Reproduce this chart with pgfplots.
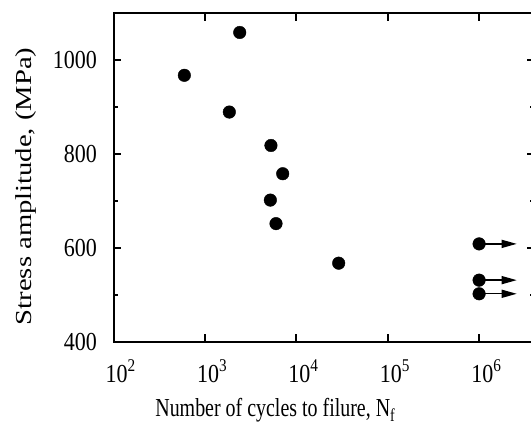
\documentclass[border=0pt]{standalone}
\usepackage{fontspec}
\setmainfont{Liberation Serif}
% the reference is stretched vertically, so horizontal text is narrow and vertical text is long
\newfontfamily\tickfont[FakeStretch=0.85]{Liberation Serif}
\newfontfamily\hfont[FakeStretch=0.77]{Liberation Serif}
\newfontfamily\vfont[FakeStretch=1.25]{Liberation Serif}
\newcommand\expo[1]{\raisebox{0.42em}{\fontsize{18}{18}\selectfont #1}}
\usepackage{pgfplots}
\pgfplotsset{compat=1.18}
\usetikzlibrary{arrows.meta}

% failed specimens
\pgfplotstableread{
N      S
596    967
2405   1058
1850   889
5280   818
7100   758
5200   702
6000   652
29100  568
}\failed

% run-outs at 1e6 cycles
\pgfplotstableread{
N      S
1e6    609
1e6    532
1e6    503
}\runout

\begin{document}
\begin{tikzpicture}
\begin{semilogxaxis}[
    scale only axis,
    width=421.5bp,
    height=329.6bp,
    xmin=100, xmax=4.09e6,
    ymin=400, ymax=1100,
    xtick={1e2,1e3,1e4,1e5,1e6},
    xticklabels={10\expo{2},10\expo{3},10\expo{4},10\expo{5},10\expo{6}},
    xminorticks=false,
    ytick={400,600,800,1000},
    yticklabels={400,600,800,1000},
    minor y tick num=1,
    axis line style={line width=2bp},
    every tick/.style={black, line width=2bp},
    major tick length=8bp,
    minor tick length=5bp,
    tick label style={font=\tickfont\fontsize{26}{26}\selectfont},
    xticklabel style={anchor=base, yshift=-40bp, xshift=7bp},
    yticklabel style={xshift=-13bp},
    xlabel={Number of cycles to filure, N\textsubscript{f}},
    ylabel={Stress amplitude, (MPa)},
    every axis x label/.style={at={(axis description cs:0.384,0)}, anchor=base, yshift=-74.5bp,
        font=\hfont\fontsize{26}{26}\selectfont},
    every axis y label/.style={at={(axis description cs:-0.2076,0.473)}, rotate=90, anchor=center,
        font=\vfont\fontsize{23}{23}\selectfont},
]
\addplot[black, line width=1.4bp, -{Triangle[length=15bp,width=8bp]}] coordinates {(1e6,609) (2.58e6,609)};
\addplot[black, line width=1.4bp, -{Triangle[length=15bp,width=8bp]}] coordinates {(1e6,532) (2.58e6,532)};
\addplot[black, line width=1.4bp, -{Triangle[length=15bp,width=8bp]}] coordinates {(1e6,503) (2.58e6,503)};
\addplot[only marks, mark=*, mark size=6.3bp, black] table[x=N, y=S] {\failed};
\addplot[only marks, mark=*, mark size=6.3bp, black] table[x=N, y=S] {\runout};
\end{semilogxaxis}
\pgfresetboundingbox
\path ([xshift=-113.5bp,yshift=-82.7bp]current axis.south west) rectangle ([xshift=-4bp,yshift=12.7bp]current axis.north east);
\end{tikzpicture}
\end{document}
